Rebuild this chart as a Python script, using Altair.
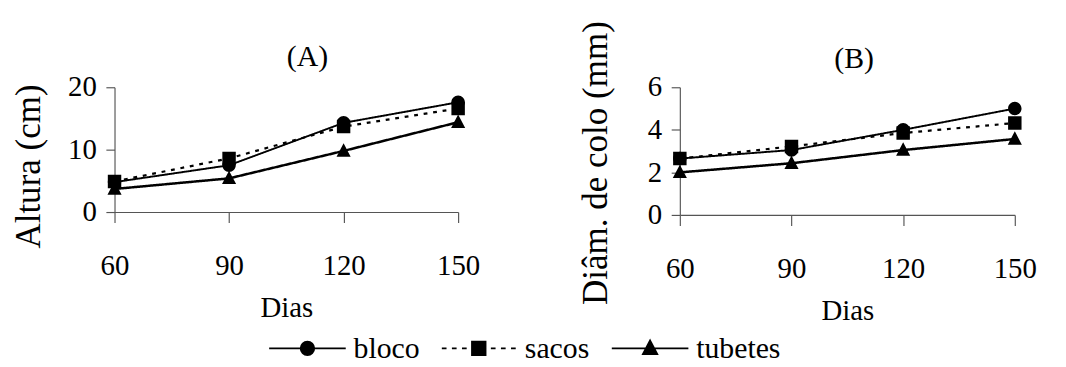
import altair as alt
import pandas as pd

# ---- data ----
dias = [60, 90, 120, 150]
series = ["bloco", "sacos", "tubetes"]

altura_bloco = [4.8, 7.5, 14.3, 17.6]
altura_sacos = [4.9, 8.6, 13.7, 16.6]
altura_tubetes = [3.7, 5.4, 9.8, 14.4]

diam_bloco = [2.65, 3.05, 4.0, 5.0]
diam_sacos = [2.65, 3.22, 3.85, 4.32]
diam_tubetes = [2.0, 2.43, 3.05, 3.57]

altura_ticks = [0, 10, 20]
diam_ticks = [0, 2, 4, 6]

FONT = "Liberation Serif"

# point symbols: marker + line segment (line only visible when stroked, i.e. in the key)
SYM_BLOCO = "M-5.7,0H5.7M1,0A1,1,0,1,1,-1,0A1,1,0,1,1,1,0Z"
SYM_SACOS = ("M-5.5,0H-4.8M-4.0,0H-3.3M-2.5,0H-1.8M1.8,0H2.5M3.3,0H4.0M4.8,0H5.5"
             "M-1,-1H1V1H-1Z")
SYM_TUBETES = "M-5.7,0H5.7M0,-1.15L1.05,0.85H-1.05Z"
SHAPE_SCALE = alt.Scale(domain=series, range=[SYM_BLOCO, SYM_SACOS, SYM_TUBETES])


def long_df(vals_list):
    rows = []
    for s, vals in zip(series, vals_list):
        for d, v in zip(dias, vals):
            rows.append({"dias": d, "valor": v, "serie": s})
    return pd.DataFrame(rows)


def panel(df, ytitle, ydomain, yticks, title, w, h, title_dx, title_dy,
          y_title_pad, y_title_shift, title_offset):
    base = alt.Chart(df)
    x = alt.X(
        "dias:Q",
        scale=alt.Scale(domain=[60, 150], nice=False, zero=False),
        axis=alt.Axis(values=dias, title="Dias", tickSize=11, labelPadding=30,
                      titlePadding=14, labelFlush=False),
    )
    y = alt.Y(
        "valor:Q",
        scale=alt.Scale(domain=ydomain, nice=False, zero=True),
        axis=alt.Axis(values=yticks, title=ytitle, tickSize=9, labelPadding=10,
                      titlePadding=y_title_pad, titleFontSize=36.5,
                      titleY=h / 2 + y_title_shift),
    )
    lines = base.mark_line(color="black").encode(
        x=x,
        y=y,
        strokeDash=alt.StrokeDash(
            "serie:N",
            scale=alt.Scale(domain=series, range=[[1, 0], [4, 6], [1, 0]]),
            legend=None,
        ),
        strokeWidth=alt.StrokeWidth(
            "serie:N",
            scale=alt.Scale(domain=series, range=[2, 2.6, 2]),
            legend=None,
        ),
    )
    points = base.mark_point(filled=True, opacity=1, color="black", size=196).encode(
        x=x,
        y=y,
        shape=alt.Shape("serie:N", scale=SHAPE_SCALE, legend=None),
    )
    return (lines + points).properties(
        width=w,
        height=h,
        title=alt.TitleParams(title, font=FONT, fontSize=31, fontWeight="normal",
                              color="black", dx=title_dx, dy=title_dy, offset=title_offset,
                              frame="group"),
    )


dfA = long_df([altura_bloco, altura_sacos, altura_tubetes])
dfB = long_df([diam_bloco, diam_sacos, diam_tubetes])

pA = panel(dfA, "Altura (cm)", [0, 20], altura_ticks, "(A)", 358, 130, 22, 0, 21, 17, 0)
pB = panel(dfB, "Diâm. de colo (mm)", [0, 6], diam_ticks, "(B)", 349, 133, 7, 52, 34, 12, -4)

# ---- key (legend) row: symbol + label per series ----
dfKey = pd.DataFrame({"serie": series})
key_x = alt.X("serie:N",
              scale=alt.Scale(type="point", domain=series, range=[201, 558], padding=0),
              axis=None)
key_symbols = alt.Chart(dfKey).mark_point(
    filled=True, opacity=1, fill="black", stroke="black", strokeWidth=2, size=196
).encode(x=key_x, shape=alt.Shape("serie:N", scale=SHAPE_SCALE, legend=None))
key_labels = alt.Chart(dfKey).mark_text(
    align="left", baseline="middle", dx=48, dy=1, font=FONT, fontSize=31, color="black"
).encode(x=key_x, text="serie:N")
key = (key_symbols + key_labels).properties(width=720, height=24)

top_row = alt.hconcat(pA, pB, spacing=231, bounds="flush")

chart = (
    alt.vconcat(top_row, key, spacing=9)
    .resolve_scale(shape="shared", strokeDash="shared", strokeWidth="shared")
    .properties(padding={"left": 4, "top": 5, "right": 5, "bottom": 0})
    .configure(background="white", font=FONT)
    .configure_text(font=FONT, fontSize=31)
    .configure_view(stroke=None)
    .configure_axis(
        grid=False,
        labelFont=FONT,
        labelFontSize=30,
        labelColor="black",
        titleFont=FONT,
        titleFontSize=30,
        titleFontWeight="normal",
        titleColor="black",
        domainColor="#555555",
        tickColor="#555555",
        domainWidth=1.2,
        tickWidth=1.2,
    )
)

chart.save("out.html", embed_options={"renderer": "svg", "actions": False})
